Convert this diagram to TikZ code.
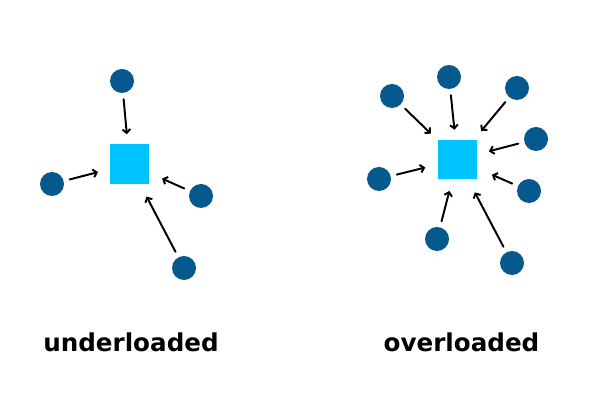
\documentclass[tikz,border=0pt]{standalone}
\usepackage{fontspec}
\setmainfont{Open Sans}
\newfontfamily\capfont{DejaVu Sans}
\usetikzlibrary{arrows.meta}
\definecolor{dotblue}{HTML}{05598C}
\definecolor{boxcyan}{HTML}{00C4FF}
\tikzset{
  dot/.style={circle,fill=dotblue,minimum size=6mm,inner sep=0pt},
  server/.style={rectangle,fill=boxcyan,minimum size=9.75mm,inner sep=0pt},
  req/.style={-{Straight Barb[length=2.6pt,width=5.6pt]},line width=1.4pt,shorten <=1.5mm},
  caption/.style={font=\capfont\fontsize{17.5}{20}\selectfont\bfseries,anchor=base}
}
\begin{document}
\begin{tikzpicture}[x=0.025cm,y=-0.025cm,line join=round,line cap=round]
\useasboundingbox (0,0) rectangle (600,400);
% underloaded
\node[server] (usq) at (129.5,164) {};
\foreach \n/\x/\y/\e in {1/122/81/2.5mm,2/52/184/3mm,3/201/196/3.5mm,4/184/268/3.6mm}{
  \node[dot] (u\n) at (\x,\y) {};
  \draw[req,shorten >=\e] (u\n) -- (usq);
}
\node[caption] (ulab) at (131,352) {underloaded};
% overloaded
\node[server] (osq) at (457.5,159.5) {};
\foreach \n/\x/\y/\e in {1/392/96/2.4mm,2/449/77/2.5mm,3/517/88/2.8mm,4/536/139/3mm,
  5/379/179/3.2mm,6/529/191/4mm,7/437/239/3mm,8/512/263/3.7mm}{
  \node[dot] (o\n) at (\x,\y) {};
  \draw[req,shorten >=\e] (o\n) -- (osq);
}
\node[caption] (olab) at (461.5,352) {overloaded};
\end{tikzpicture}
\end{document}
